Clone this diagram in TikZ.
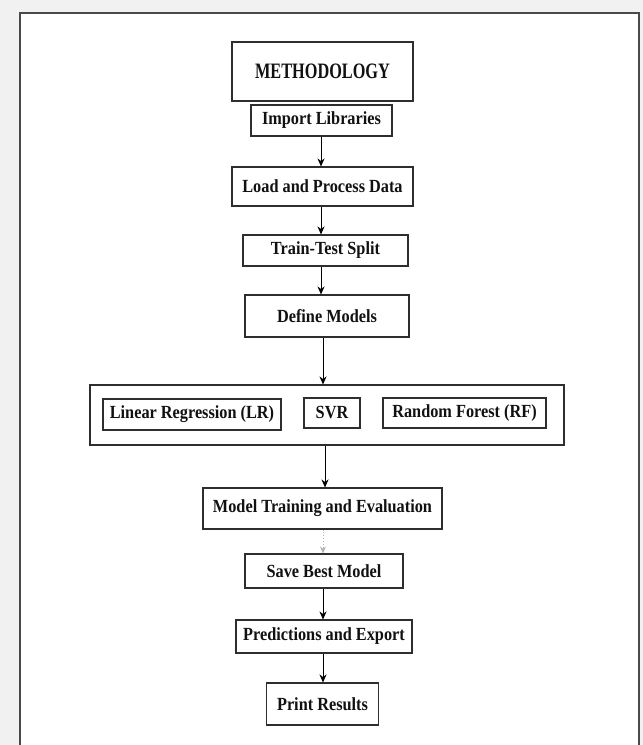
\documentclass[tikz,border=0pt]{standalone}
\usepackage{fontspec}
\setmainfont{Liberation Serif}[FakeStretch=0.88]
\newfontfamily\methfont{Liberation Serif}[FakeStretch=0.74, BoldFont={Liberation Serif Bold}]
\usetikzlibrary{arrows.meta,calc}
\definecolor{bgray}{HTML}{F1F1F1}
\definecolor{frameline}{HTML}{4A4A4A}
\definecolor{boxline}{HTML}{2E2E2E}
\definecolor{txt}{HTML}{111111}
\tikzset{
  box/.style={draw=boxline, line width=1.1pt, fill=white, rectangle, inner sep=0pt,
    font=\fontsize{18.5}{22}\selectfont\bfseries, text=txt},
  arr/.style={draw=black, line width=0.9pt, -{Stealth[length=8pt,width=7pt]}},
  faintarr/.style={draw=gray!60, line width=0.9pt, dotted, -{Stealth[length=7pt,width=6pt]}}
}
\begin{document}
\begin{tikzpicture}[x=1pt,y=-1pt]
\useasboundingbox (0,0) rectangle (643,745);
\fill[bgray] (0,0) rectangle (643,745);
\fill[white] (20,13) rectangle (639,746);
\draw[frameline, line width=1.5pt] (20,747) -- (20,13) -- (639,13) -- (639,747);

\node[box, minimum width=181pt, minimum height=59pt,
  font=\methfont\fontsize{22}{26}\selectfont\bfseries] (meth) at (322.5,71.5) {METHODOLOGY};
\node[box, minimum width=141pt, minimum height=31pt] (imp) at (321.5,120.5) {Import Libraries};
\node[box, minimum width=181pt, minimum height=39pt] (load) at (322.5,186.5) {Load and Process Data};
\node[box, minimum width=165pt, minimum height=31pt] (tts) at (325.5,250.5) {Train-Test Split};
\node[box, minimum width=164pt, minimum height=42pt] (def) at (327,316) {Define Models};
\node[box, minimum width=474pt, minimum height=60pt] (cont) at (327,415) {};
\node[box, minimum width=178pt, minimum height=31pt] (lr) at (192,414.5) {Linear Regression (LR)};
\node[box, minimum width=56pt, minimum height=30pt] (svr) at (332,413) {SVR};
\node[box, minimum width=163pt, minimum height=30pt] (rf) at (464.5,413) {Random Forest (RF)};
\node[box, minimum width=239pt, minimum height=41pt] (mte) at (322.5,508.5) {Model Training and Evaluation};
\node[box, minimum width=158pt, minimum height=34pt] (sbm) at (324,571) {Save Best Model};
\node[box, minimum width=176pt, minimum height=33pt] (pe) at (324,636.5) {Predictions and Export};
\node[box, minimum width=112pt, minimum height=42pt] (pr) at (322.5,704) {Print Results};

\coordinate (c1) at (321,0);
\coordinate (c2) at (323,0);
\coordinate (c3) at (325,0);
\draw[arr] (imp.south -| c1) -- (load.north -| c1);
\draw[arr] (load.south -| c1) -- (tts.north -| c1);
\draw[arr] (tts.south -| c1) -- (def.north -| c1);
\draw[arr] (def.south -| c2) -- (cont.north -| c2);
\draw[arr] (cont.south -| c3) -- (mte.north -| c3);
\draw[faintarr] (mte.south -| c2) -- (sbm.north -| c2);
\draw[arr] (sbm.south -| c2) -- (pe.north -| c2);
\draw[arr] (pe.south -| c2) -- (pr.north -| c2);
\end{tikzpicture}
\end{document}
